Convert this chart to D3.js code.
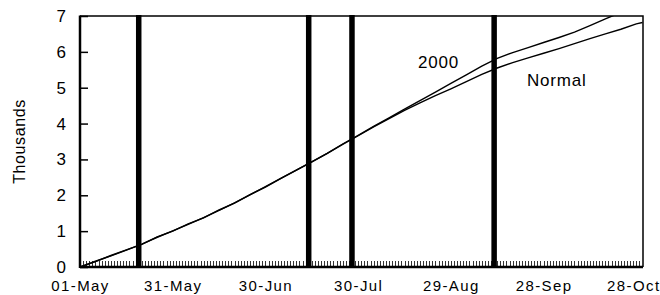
<!DOCTYPE html>
<html>
<head>
<meta charset="utf-8">
<script src="https://cdn.jsdelivr.net/npm/d3@7"></script>
<style>
  body { margin: 0; background: #fff; }
  text { font-family: "Liberation Sans", Arial, sans-serif; fill: #000; }
</style>
</head>
<body>
<svg id="chart"></svg>
<script>
var W = 660, H = 295;

// day offsets from 01-May, one reading every 5 days
var days = [0, 5, 10, 15, 20, 25, 30, 35, 40, 45, 50, 55, 60, 65, 70, 75, 80, 85, 90,
            95, 100, 105, 110, 115, 120, 125, 130, 135, 140, 145, 150, 155, 160, 165,
            170, 175, 180, 182];
var normal = [0.00, 0.16, 0.31, 0.47, 0.64, 0.83, 1.01, 1.19, 1.38, 1.58, 1.79, 2.01,
              2.24, 2.47, 2.70, 2.93, 3.17, 3.42, 3.66, 3.91, 4.14, 4.37, 4.58, 4.78,
              4.97, 5.17, 5.37, 5.55, 5.70, 5.83, 5.96, 6.09, 6.23, 6.37, 6.50, 6.63,
              6.78, 6.82];
var y2000 = [0.00, 0.15, 0.32, 0.48, 0.63, 0.84, 1.00, 1.20, 1.37, 1.59, 1.78, 2.02,
             2.23, 2.47, 2.70, 2.93, 3.17, 3.43, 3.67, 3.92, 4.16, 4.40, 4.64, 4.88,
             5.12, 5.36, 5.60, 5.82, 5.98, 6.12, 6.26, 6.40, 6.55, 6.73, 6.92, 7.10,
             7.25, 7.30];
var tickLabels = ["01-May", "31-May", "30-Jun", "30-Jul", "29-Aug", "28-Sep", "28-Oct"];
var markerDays = [19, 74, 88, 134];
var yTicks = [0, 1, 2, 3, 4, 5, 6, 7];

var pLeft = 80, pRight = 643, pTop = 16, pBottom = 267;
var start = new Date(Date.UTC(2000, 4, 1));
function dayDate(d) { return d3.utcDay.offset(start, d); }

var x = d3.scaleUtc()
  .domain([start, d3.utcHour.offset(start, 182.2 * 24)])
  .range([pLeft, pRight]);
var y = d3.scaleLinear().domain([0, 7]).range([pBottom, pTop]);

var svg = d3.select("#chart").attr("width", W).attr("height", H);

svg.append("clipPath").attr("id", "plot")
  .append("rect").attr("x", pLeft).attr("y", pTop)
  .attr("width", pRight - pLeft).attr("height", pBottom - pTop);

// frame: top and right borders
svg.append("path")
  .attr("d", "M" + pLeft + "," + pTop + "H" + pRight + "V" + pBottom)
  .attr("fill", "none").attr("stroke", "#000").attr("stroke-width", 1.5);

// daily minor ticks along the x axis
var daily = d3.range(0, 182).map(dayDate);
svg.append("g").selectAll("line").data(daily).enter().append("line")
  .attr("x1", function(d) { return Math.round(x(d)) + 0.5; })
  .attr("x2", function(d) { return Math.round(x(d)) + 0.5; })
  .attr("y1", pBottom).attr("y2", pBottom - 6)
  .attr("stroke", "#333").attr("stroke-width", 1);

// x axis
var xAxis = d3.axisBottom(x)
  .tickValues(tickLabels.map(function(t, i) { return dayDate(i * 30); }))
  .tickFormat(function(d, i) { return tickLabels[i]; })
  .tickSize(0).tickPadding(13);
var gx = svg.append("g").attr("transform", "translate(0," + pBottom + ")").call(xAxis);
gx.select(".domain").remove();
gx.selectAll("text").style("font-size", "15px").style("letter-spacing", "1.4px")
  .style("font-family", "'Liberation Sans', Arial, sans-serif");
gx.selectAll("text").filter(function(d, i) { return i === tickLabels.length - 1; })
  .attr("dx", -3);

// y axis
var yAxis = d3.axisLeft(y).tickValues(yTicks).tickFormat(d3.format("d"))
  .tickSize(-8).tickPadding(14);
var gy = svg.append("g").attr("transform", "translate(" + pLeft + ",0)").call(yAxis);
gy.select(".domain").remove();
gy.selectAll("line").attr("stroke-width", 1.5);
gy.selectAll("text").style("font-size", "17px")
  .style("font-family", "'Liberation Sans', Arial, sans-serif");

svg.append("line")
  .attr("x1", pLeft).attr("x2", pLeft).attr("y1", pTop - 0.5).attr("y2", pBottom + 1)
  .attr("stroke", "#000").attr("stroke-width", 2.5);
svg.append("line")
  .attr("x1", pLeft).attr("x2", pRight).attr("y1", pBottom).attr("y2", pBottom)
  .attr("stroke", "#000").attr("stroke-width", 2.5);

svg.append("text")
  .attr("transform", "translate(25," + ((pTop + pBottom) / 2) + ") rotate(-90)")
  .attr("text-anchor", "middle")
  .style("font-size", "16px").style("letter-spacing", "0.6px")
  .text("Thousands");

// series
var line = d3.line()
  .x(function(d) { return x(dayDate(d[0])); })
  .y(function(d) { return y(d[1]); });
var g = svg.append("g").attr("clip-path", "url(#plot)");
[normal, y2000].forEach(function(s) {
  g.append("path")
    .datum(days.map(function(d, i) { return [d, s[i]]; }))
    .attr("d", line)
    .attr("fill", "none").attr("stroke", "#000").attr("stroke-width", 1.4);
});

// thick markers
svg.append("g").selectAll("line").data(markerDays).enter().append("line")
  .attr("x1", function(d) { return x(dayDate(d)); })
  .attr("x2", function(d) { return x(dayDate(d)); })
  .attr("y1", pTop - 1).attr("y2", pBottom + 1)
  .attr("stroke", "#000").attr("stroke-width", 5.5);

svg.append("text").attr("x", 418).attr("y", 68)
  .style("font-size", "17px").style("letter-spacing", "0.8px").text("2000");
svg.append("text").attr("x", 527).attr("y", 86)
  .style("font-size", "17px").style("letter-spacing", "0.8px").text("Normal");
</script>
</body>
</html>
